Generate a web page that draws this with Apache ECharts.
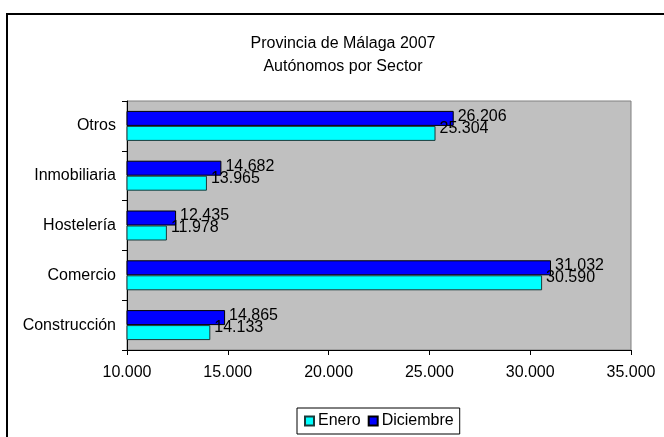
<!DOCTYPE html>
<html>
<head>
<meta charset="utf-8">
<script src="https://cdn.jsdelivr.net/npm/echarts@6/dist/echarts.min.js"></script>
<style>
  html, body { margin: 0; padding: 0; background: #fff; }
  #main { width: 664px; height: 437px; }
</style>
</head>
<body>
<div id="main"></div>
<script>
// datos (de abajo hacia arriba, como en el gráfico)
var sectores = ['Construcción', 'Comercio', 'Hostelería', 'Inmobiliaria', 'Otros'];
var enero = [14133, 30590, 11978, 13965, 25304];
var diciembre = [14865, 31032, 12435, 14682, 26206];

var FONT = 'Liberation Sans, Arial, sans-serif';

function miles(v) {
  return String(v).replace(/\B(?=(\d{3})+(?!\d))/g, '.');
}

var chart = echarts.init(document.getElementById('main'), null, { renderer: 'canvas' });

var option = {
  backgroundColor: '#fff',
  animation: false,
  title: {
    text: 'Provincia de Málaga 2007\nAutónomos por Sector',
    left: 338,
    top: 27,
    textAlign: 'center',
    textStyle: { fontFamily: FONT, fontSize: 16, fontWeight: 'normal', color: '#000', lineHeight: 23 }
  },
  graphic: [{
    type: 'rect',
    shape: { x: 7, y: 14, width: 720, height: 500 },
    style: { fill: 'none', stroke: '#000', lineWidth: 2 },
    silent: true
  }],
  legend: {
    data: ['Enero', 'Diciembre'],
    left: 297,
    top: 408,
    orient: 'horizontal',
    icon: 'rect',
    itemWidth: 9,
    itemHeight: 9,
    itemGap: 7,
    padding: [5, 6, 5, 7],
    borderColor: '#000',
    borderWidth: 1,
    textStyle: { fontFamily: FONT, fontSize: 16, color: '#000', padding: [0, 0, 0, -1] }
  },
  grid: {
    left: 127,
    right: 33,
    top: 101,
    height: 249,
    show: true,
    backgroundColor: '#c0c0c0',
    borderColor: '#808080',
    borderWidth: 1
  },
  xAxis: {
    type: 'value',
    min: 10000,
    max: 35000,
    interval: 5000,
    axisLine: { show: true, lineStyle: { color: '#000', width: 1 } },
    axisTick: { show: true, length: 5, lineStyle: { color: '#000' } },
    splitLine: { show: false },
    axisLabel: {
      margin: 15,
      fontFamily: FONT, fontSize: 16, color: '#000',
      formatter: function (v) { return miles(v); }
    }
  },
  yAxis: {
    type: 'category',
    data: sectores,
    axisLine: { show: true, lineStyle: { color: '#000', width: 1 } },
    axisTick: { show: true, length: 5, lineStyle: { color: '#000' } },
    axisLabel: { margin: 11, fontFamily: FONT, fontSize: 16, color: '#000' }
  },
  series: [
    {
      name: 'Diciembre',
      type: 'bar',
      data: diciembre,
      barWidth: 15,
      barGap: '0%',
      itemStyle: { color: '#0000ff', borderColor: '#000', borderWidth: 1 },
      label: {
        show: true,
        position: 'right',
        distance: 4,
        offset: [0, -2],
        fontFamily: FONT, fontSize: 16, color: '#000',
        formatter: function (p) { return miles(p.value); }
      }
    },
    {
      name: 'Enero',
      type: 'bar',
      data: enero,
      barWidth: 15,
      barGap: '0%',
      itemStyle: { color: '#00ffff', borderColor: '#1a3a3a', borderWidth: 1 },
      label: {
        show: true,
        position: 'right',
        distance: 4,
        offset: [0, -5],
        fontFamily: FONT, fontSize: 16, color: '#000',
        formatter: function (p) { return miles(p.value); }
      }
    }
  ]
};

chart.setOption(option);
</script>
</body>
</html>
